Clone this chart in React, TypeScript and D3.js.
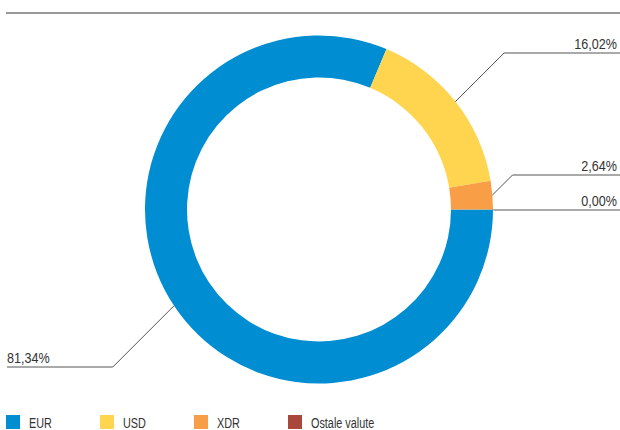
import React, { useEffect, useRef } from 'react'
import * as d3 from 'd3'

const width = 620
const height = 430

const categories = ['EUR', 'USD', 'XDR', 'Ostale valute']
const shares = [81.34, 16.02, 2.64, 0.0]
const shareLabels = ['81,34%', '16,02%', '2,64%', '0,00%']
const colors = ['#008dd2', '#ffd54f', '#f89e46', '#a8473a']
// y of the horizontal part of each leader line
const leaderY = [367, 53, 175, 210]

const font = "'Liberation Sans', Arial, sans-serif"

export default function App() {
  const svgRef = useRef<SVGSVGElement>(null)

  useEffect(() => {
    const svg = d3.select(svgRef.current)
    svg.selectAll('*').remove()

    const cx = 319
    const cy = 209.5
    const outerR = 174
    const innerR = 132

    // top rule
    svg
      .append('line')
      .attr('x1', 6)
      .attr('x2', width)
      .attr('y1', 13)
      .attr('y2', 13)
      .attr('stroke', '#777')
      .attr('stroke-width', 1.4)

    const data = categories.map((c, i) => ({ name: c, value: shares[i], label: shareLabels[i], i }))

    const pie = d3
      .pie<any>()
      .value((d) => d.value)
      .sort(null)
      .startAngle(Math.PI / 2)
      .endAngle(Math.PI / 2 + 2 * Math.PI)

    const arcs = pie(data)
    const arc = d3.arc<any>().innerRadius(innerR).outerRadius(outerR)

    const g = svg.append('g').attr('transform', `translate(${cx},${cy})`)
    g.selectAll('path')
      .data(arcs)
      .enter()
      .append('path')
      .attr('d', arc)
      .attr('fill', (d) => colors[d.data.i])

    // leader lines + labels
    const lines = svg.append('g')
    arcs.forEach((a) => {
      const mid = (a.startAngle + a.endAngle) / 2
      const sx = cx + outerR * Math.sin(mid)
      const sy = cy - outerR * Math.cos(mid)
      const ly = leaderY[a.data.i]
      const right = Math.sin(mid) >= 0
      const dy = Math.abs(ly - sy)
      const ex = right ? sx + dy : sx - dy
      const endX = right ? width : 7
      const pts: [number, number][] = [
        [sx, sy],
        [ex, ly],
        [endX, ly],
      ]
      lines
        .append('path')
        .attr('d', d3.line()(pts))
        .attr('fill', 'none')
        .attr('stroke', '#555')
        .attr('stroke-width', 1)
      lines
        .append('text')
        .attr('transform', `translate(${right ? 617 : 7},${ly - 4}) scale(0.84,1)`)
        .attr('text-anchor', right ? 'end' : 'start')
        .attr('font-family', font)
        .attr('font-size', 15)
        .attr('fill', '#333')
        .text(a.data.label)
    })

    // legend
    const legendX = [6, 100, 194, 288]
    const legend = svg.append('g')
    categories.forEach((c, i) => {
      legend
        .append('rect')
        .attr('x', legendX[i])
        .attr('y', 415)
        .attr('width', 14)
        .attr('height', 14)
        .attr('fill', colors[i])
      legend
        .append('text')
        .attr('transform', `translate(${legendX[i] + 23},428) scale(0.7,1)`)
        .attr('font-family', font)
        .attr('font-size', 15.5)
        .attr('fill', '#333')
        .text(c)
    })
  }, [])

  return (
    <svg
      ref={svgRef}
      width={width}
      height={height}
      style={{ position: 'fixed', left: 0, top: 0, display: 'block', background: '#fff' }}
    />
  )
}
